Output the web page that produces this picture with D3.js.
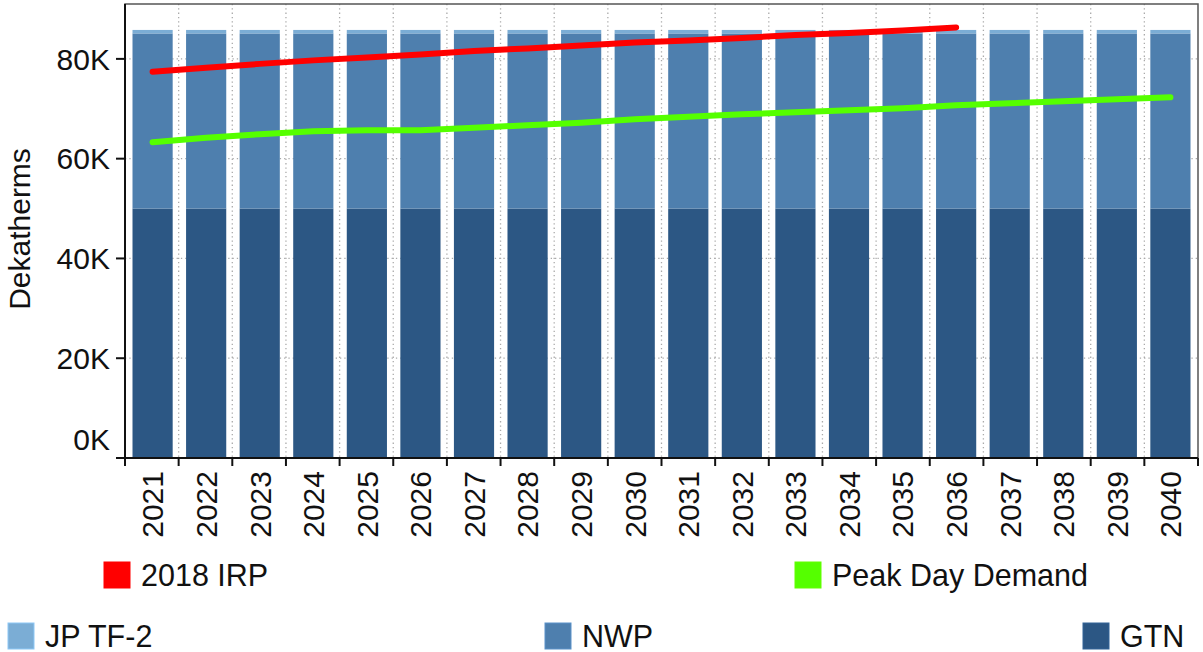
<!DOCTYPE html>
<html><head><meta charset="utf-8">
<script src="https://cdn.jsdelivr.net/npm/d3@7"></script>
<style>
html,body{margin:0;padding:0;background:#fff;}
svg text{font-family:"Liberation Sans",Arial,sans-serif;fill:#111;}
</style></head>
<body><svg id="c" width="1203" height="652"></svg>
<script>
const years = ["2021","2022","2023","2024","2025","2026","2027","2028","2029","2030","2031","2032","2033","2034","2035","2036","2037","2038","2039","2040"];
const gtn   = [50000,50000,50000,50000,50000,50000,50000,50000,50000,50000,50000,50000,50000,50000,50000,50000,50000,50000,50000,50000];
const nwp   = [35100,35100,35100,35100,35100,35100,35100,35100,35100,35100,35100,35100,35100,35100,35100,35100,35100,35100,35100,35100];
const jpTf2 = [700,700,700,700,700,700,700,700,700,700,700,700,700,700,700,700,700,700,700,700];
const irpYears = ["2021","2022","2023","2024","2025","2026","2027","2028","2029","2030","2031","2032","2033","2034","2035","2036"];
const irp2018 = [77400,78200,79000,79700,80300,80900,81600,82100,82700,83300,83700,84200,84800,85200,85700,86300];
const peakDay = [63300,64200,64900,65500,65700,65700,66200,66700,67200,67900,68400,68900,69300,69700,70100,70700,71100,71500,71900,72300];
const yTicks = [0,20000,40000,60000,80000];
const yTickLabels = ["0K","20K","40K","60K","80K"];
const seriesNames = ["GTN","NWP","JP TF-2"];
const colors = {"GTN":"#2c5784","NWP":"#4e7fae","JP TF-2":"#7badd5","2018 IRP":"#ff0000","Peak Day Demand":"#55ff00"};

const svg = d3.select("#c");
const L=125, R=1198, T=4, B=458;
const FS = 30;
const x = d3.scaleBand().domain(years).range([L,R]).paddingInner(0.25).paddingOuter(0.14);
const y = d3.scaleLinear().domain([0,91000]).range([B,T]);

// gridlines
const g = svg.append("g");
const bounds = d3.range(1, years.length).map(i => L + i*(R-L)/years.length);
g.selectAll("line.vg").data(bounds).join("line")
  .attr("x1",d=>d).attr("x2",d=>d).attr("y1",T).attr("y2",B)
  .attr("stroke","#aaa").attr("stroke-width",1.3).attr("stroke-dasharray","1.3,3");
g.selectAll("line.hg").data(yTicks.slice(1)).join("line")
  .attr("x1",L).attr("x2",R).attr("y1",d=>y(d)).attr("y2",d=>y(d))
  .attr("stroke","#aaa").attr("stroke-width",1.3).attr("stroke-dasharray","1.3,3");

// stacked bars
const rows = years.map((yr,i)=>({year:yr,"GTN":gtn[i],"NWP":nwp[i],"JP TF-2":jpTf2[i]}));
const stack = d3.stack().keys(seriesNames)(rows);
svg.append("g").selectAll("g").data(stack).join("g")
  .attr("fill",d=>colors[d.key])
  .selectAll("rect").data(d=>d).join("rect")
  .attr("x",d=>x(d.data.year)).attr("width",x.bandwidth())
  .attr("y",d=>y(d[1])).attr("height",d=>y(d[0])-y(d[1]));

// frame
svg.append("rect").attr("x",L).attr("y",T).attr("width",R-L).attr("height",B-T)
  .attr("fill","none").attr("stroke","#555").attr("stroke-width",1.5);

// lines
const cx = d => x(d)+x.bandwidth()/2;
const line = d3.line().x(d=>cx(d[0])).y(d=>y(d[1]));
svg.append("path").datum(irpYears.map((d,i)=>[d,irp2018[i]]))
  .attr("d",line).attr("fill","none").attr("stroke",colors["2018 IRP"])
  .attr("stroke-width",6).attr("stroke-linecap","round").attr("stroke-linejoin","round");
svg.append("path").datum(years.map((d,i)=>[d,peakDay[i]]))
  .attr("d",line).attr("fill","none").attr("stroke",colors["Peak Day Demand"])
  .attr("stroke-width",6).attr("stroke-linecap","round").attr("stroke-linejoin","round");

// y axis
const ya = svg.append("g");
ya.append("line").attr("x1",L).attr("x2",L).attr("y1",T).attr("y2",B).attr("stroke","#111").attr("stroke-width",2);
ya.selectAll("line.t").data(yTicks).join("line")
  .attr("x1",L-9).attr("x2",L).attr("y1",d=>y(d)).attr("y2",d=>y(d)).attr("stroke","#111").attr("stroke-width",2);
ya.selectAll("text").data(yTicks).join("text")
  .attr("x",110).attr("y",d=>y(d)+(d===0?-19:0)).attr("dy","0.36em")
  .attr("text-anchor","end").attr("font-size",FS)
  .text((d,i)=>yTickLabels[i]);
svg.append("text").attr("transform","translate(30,229) rotate(-90)")
  .attr("text-anchor","middle").attr("font-size",FS).text("Dekatherms");

// x axis
const xa = svg.append("g");
xa.append("line").attr("x1",L).attr("x2",R).attr("y1",B).attr("y2",B).attr("stroke","#111").attr("stroke-width",2);
const allB = d3.range(0, years.length+1).map(i => L + i*(R-L)/years.length);
xa.selectAll("line.t").data(allB).join("line")
  .attr("x1",d=>d).attr("x2",d=>d).attr("y1",B).attr("y2",B+8).attr("stroke","#111").attr("stroke-width",2);
xa.selectAll("text").data(years).join("text")
  .attr("transform",d=>`translate(${cx(d)},${B+13}) rotate(-90)`)
  .attr("dy","0.36em").attr("text-anchor","end").attr("font-size",FS).text(d=>d);

// legend
const legend = [
  {name:"2018 IRP", x:104, y:562},
  {name:"Peak Day Demand", x:795, y:562},
  {name:"JP TF-2", x:8, y:623},
  {name:"NWP", x:545, y:623},
  {name:"GTN", x:1083, y:623}
];
const lg = svg.append("g").selectAll("g").data(legend).join("g")
  .attr("transform",d=>`translate(${d.x},${d.y})`);
lg.append("rect").attr("width",26).attr("height",26).attr("fill",d=>colors[d.name])
  .attr("stroke",d=>d3.color(colors[d.name]).brighter(0.4)).attr("stroke-width",1);
lg.append("text").attr("x",37).attr("y",23.5).attr("font-size",30.5).text(d=>d.name);
</script></body></html>
